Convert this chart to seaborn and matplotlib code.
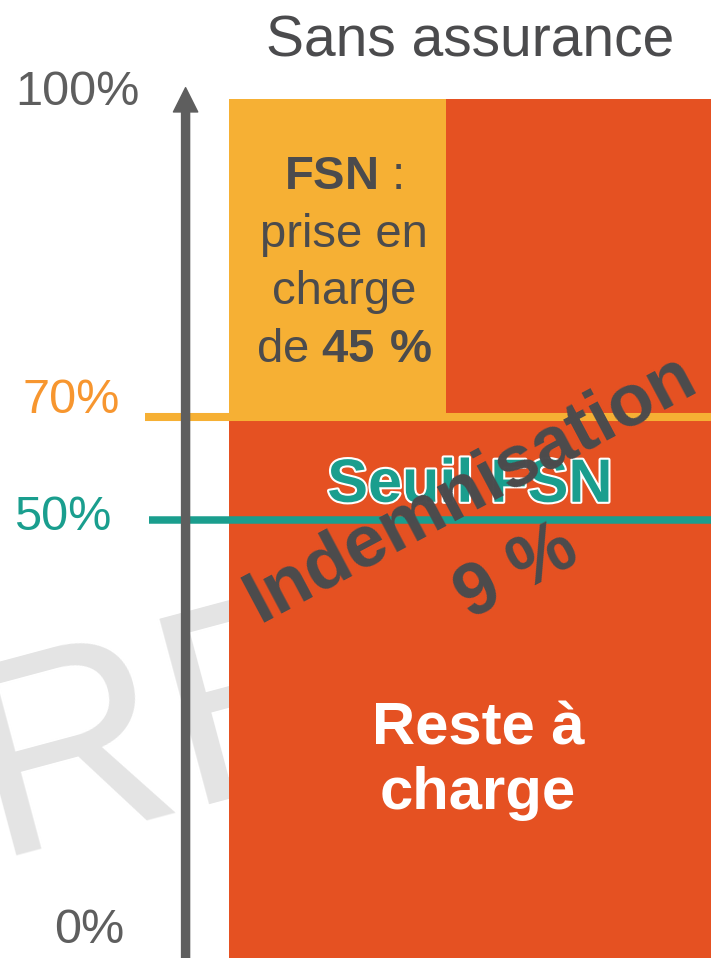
import numpy as np
import matplotlib
matplotlib.use("Agg")
import matplotlib.pyplot as plt
import matplotlib.patheffects as pe
import seaborn as sns

# schematic chart: what is left to pay without insurance (FSN = fonds de solidarite)
category = ["Sans assurance"]
bar_total = [100]
level_labels = ["0%", "50%", "70%", "100%"]
level_pos = [0, 51, 63, 100]      # where each level sits on the drawn (schematic) axis
fsn_share = 45                    # FSN pays 45 % of the part above the 70 % threshold
seuil_fsn = level_pos[2]
seuil_50 = level_pos[1]

red = "#E55122"
orange = "#F6B034"
orange_txt = "#F7962F"
teal = "#1A9E8E"
dark = "#4B4B4D"
grey = "#5E5E5E"

sns.set_theme(style="white")
plt.rcParams["font.family"] = ["Liberation Sans", "DejaVu Sans"]
plt.rcParams["mathtext.fontset"] = "custom"
plt.rcParams["mathtext.rm"] = "Liberation Sans"
plt.rcParams["mathtext.bf"] = "Liberation Sans:bold"

fig = plt.figure(figsize=(7.11, 9.58), dpi=100)
ax = fig.add_axes([0, 0, 1, 1])

# main bar (full height, red)
sns.barplot(x=category, y=bar_total, color=red, saturation=1, width=1,
            linewidth=0, ax=ax, zorder=1)
# FSN part on top of the threshold
ax.bar(-0.5, bar_total[0] - seuil_fsn, bottom=seuil_fsn, width=fsn_share / 100,
       align="edge", color=orange, linewidth=0, zorder=2)

ax.set_xlim(-0.975, 0.5)
ax.set_ylim(0, 111.5)
ax.axis("off")

# threshold lines
ax.hlines(seuil_fsn, -0.674, 0.5, color=orange, lw=5.8, zorder=3)
ax.hlines(seuil_50, -0.666, 0.5, color=teal, lw=5.4, zorder=3)

# vertical arrow axis
ax.annotate("", xy=(-0.59, 101.3), xytext=(-0.59, -2),
            arrowprops=dict(width=5.8, headwidth=17.5, headlength=17.5,
                            color=grey, shrink=0), zorder=5)

# level labels
lab_x = [-0.716, -0.743, -0.726, -0.685]
lab_y = [1.75, 49.8, 63.4, 99.3]
lab_c = [grey, teal, orange_txt, grey]
for lab, x, y, c in zip(level_labels, lab_x, lab_y, lab_c):
    ax.text(x, y, lab, ha="right", va="baseline", fontsize=35, color=c)

# watermark
ax.text(-0.99, 11.9, "RE", fontsize=200, color="#E4E4E4", rotation=15,
        rotation_mode="anchor", ha="left", va="baseline", zorder=0)

# title
ax.text(0.0, 104.9, category[0], ha="center", va="baseline", fontsize=41,
        color=dark)

# FSN block text
fsn_lines = [r"$\mathbf{FSN}$ :", "prise en", "charge",
             r"de $\mathbf{" + str(fsn_share) + r"\ \%}$"]
for i, line in enumerate(fsn_lines):
    ax.text(-0.262, 89.5 - i * 6.7, line, ha="center", va="baseline",
            fontsize=34, color=dark, zorder=4)

# Seuil FSN
ax.text(0.0, 53.1, "Seuil FSN", ha="center", va="baseline", fontsize=44,
        fontweight="bold", color=teal, zorder=4,
        path_effects=[pe.withStroke(linewidth=3, foreground="white")])

# Indemnisation 9 %
ax.text(0.0, 54.7, "Indemnisation", ha="center", va="center", fontsize=53,
        fontweight="bold", color=dark, rotation=28, rotation_mode="anchor",
        zorder=6)
ax.text(0.096, 44.9, "9 %", ha="center", va="center", fontsize=53,
        fontweight="bold", color=dark, rotation=28, rotation_mode="anchor",
        zorder=6)

# Reste a charge
ax.text(0.017, 24.8, "Reste à", ha="center", va="baseline", fontsize=43,
        fontweight="bold", color="white", zorder=4)
ax.text(0.017, 17.4, "charge", ha="center", va="baseline", fontsize=43,
        fontweight="bold", color="white", zorder=4)

fig.savefig("out.png", dpi=100)
